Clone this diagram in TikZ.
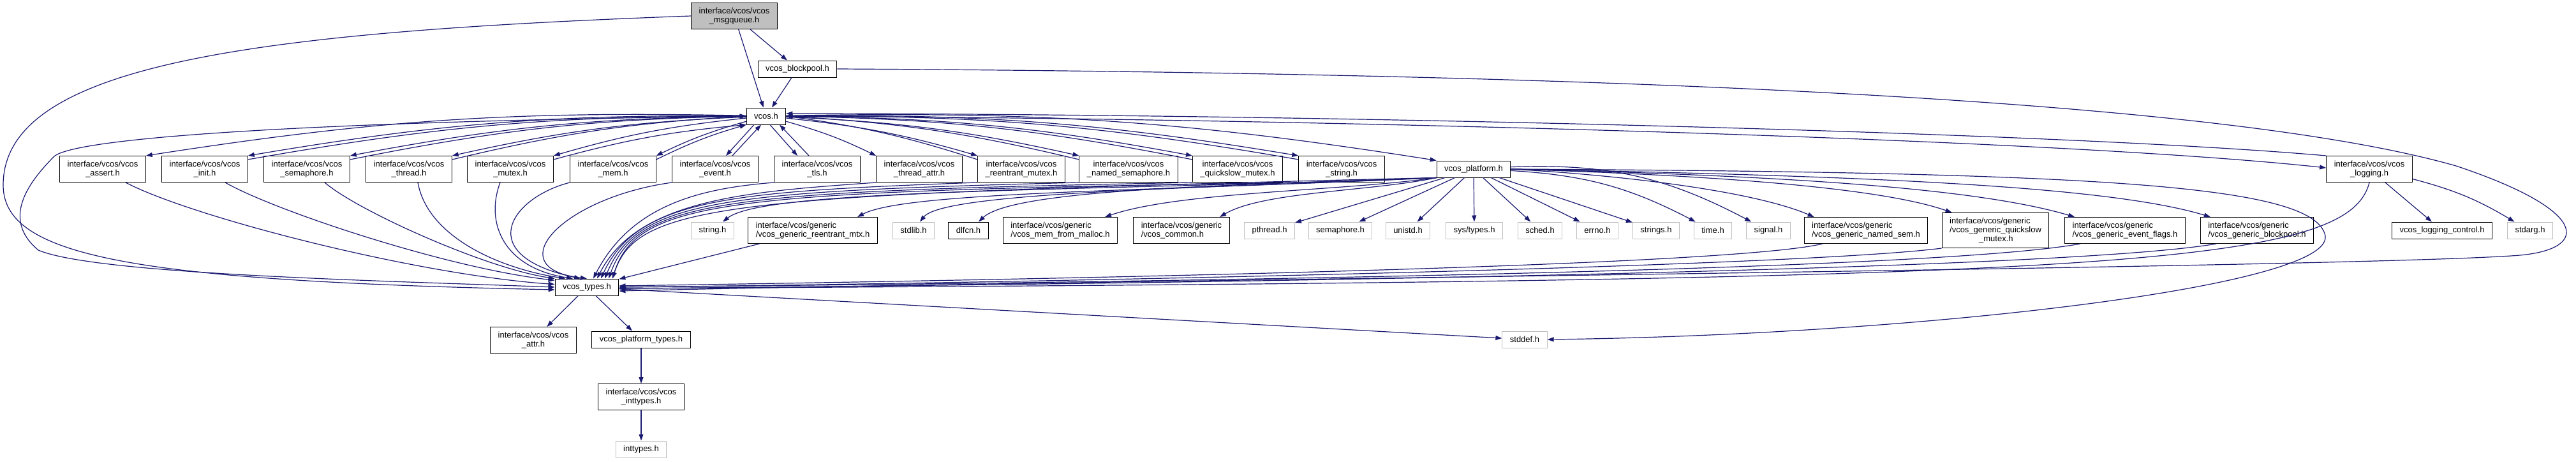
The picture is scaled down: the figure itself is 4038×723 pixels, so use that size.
\documentclass[tikz,border=0pt]{standalone}
\usepackage{fontspec}
\setmainfont{Liberation Sans}
\usetikzlibrary{arrows.meta}
\definecolor{edgeblue}{HTML}{191970}
\definecolor{grey75}{HTML}{BFBFBF}

\begin{document}
\begin{tikzpicture}[x=0.5pt, y=-0.5pt, font=\fontsize{6.5pt}{7pt}\selectfont,
        box/.style={draw=black, line width=0.5pt, fill=white, inner xsep=6pt,
                    inner ysep=1pt, minimum height=13pt, align=center},
        two/.style={minimum height=20.5pt},
        sys/.style={box, draw=grey75},
        gen/.style={box, two, align=left},
        inc/.style={draw=edgeblue, line width=0.6pt,
                    -{Triangle[length=5pt,width=3.5pt]}}]
      \useasboundingbox (0,0) rectangle (4038,723);
      \node[box, two, fill=grey75] (msgq)   at (1151,25)  {interface/vcos/vcos\\\_msgqueue.h};
      \node[box]                   (blockp) at (1250,108) {vcos\_blockpool.h};
      \node[box]                   (vcos)   at (1201,182) {vcos.h};

      \node[box, two] (assert)  at (161,265)  {interface/vcos/vcos\\\_assert.h};
      \node[box, two] (init)    at (321,265)  {interface/vcos/vcos\\\_init.h};
      \node[box, two] (sema)    at (481,265)  {interface/vcos/vcos\\\_semaphore.h};
      \node[box, two] (thread)  at (641,265)  {interface/vcos/vcos\\\_thread.h};
      \node[box, two] (mutex)   at (800,265)  {interface/vcos/vcos\\\_mutex.h};
      \node[box, two] (mem)     at (961,265)  {interface/vcos/vcos\\\_mem.h};
      \node[box, two] (event)   at (1121,265) {interface/vcos/vcos\\\_event.h};
      \node[box, two] (tls)     at (1281,265) {interface/vcos/vcos\\\_tls.h};
      \node[box, two] (tattr)   at (1441,265) {interface/vcos/vcos\\\_thread\_attr.h};
      \node[box, two] (rmutex)  at (1601,265) {interface/vcos/vcos\\\_reentrant\_mutex.h};
      \node[box, two] (nsema)   at (1769,265) {interface/vcos/vcos\\\_named\_semaphore.h};
      \node[box, two] (qsmutex) at (1940,265) {interface/vcos/vcos\\\_quickslow\_mutex.h};
      \node[box, two] (vstring) at (2103,265) {interface/vcos/vcos\\\_string.h};
      \node[box]      (platform) at (2310,265) {vcos\_platform.h};
      \node[box, two] (logging) at (3714,265) {interface/vcos/vcos\\\_logging.h};

      \node[sys] (stringh)  at (1117,361) {string.h};
      \node[gen] (greent)   at (1274,361) {interface/vcos/generic\\/vcos\_generic\_reentrant\_mtx.h};
      \node[sys] (stdlib)   at (1432,361) {stdlib.h};
      \node[box] (dlfcn)    at (1518,361) {dlfcn.h};
      \node[gen] (gmem)     at (1662,361) {interface/vcos/generic\\/vcos\_mem\_from\_malloc.h};
      \node[gen] (gcommon)  at (1852,361) {interface/vcos/generic\\/vcos\_common.h};
      \node[sys] (pthread)  at (1990,361) {pthread.h};
      \node[sys] (semah)    at (2101,361) {semaphore.h};
      \node[sys] (unistd)   at (2207,361) {unistd.h};
      \node[sys] (systypes) at (2311,361) {sys/types.h};
      \node[sys] (sched)    at (2414,361) {sched.h};
      \node[sys] (errno)    at (2504,361) {errno.h};
      \node[sys] (strings)  at (2596,361) {strings.h};
      \node[sys] (timeh)    at (2685,361) {time.h};
      \node[sys] (signal)   at (2772,361) {signal.h};
      \node[gen] (gnsem)    at (2925,361) {interface/vcos/generic\\/vcos\_generic\_named\_sem.h};
      \node[gen, minimum height=27.5pt] (gqs) at (3128,361)
            {interface/vcos/generic\\/vcos\_generic\_quickslow\\\hspace*{23pt}\_mutex.h};
      \node[gen] (gevf)     at (3331,361) {interface/vcos/generic\\/vcos\_generic\_event\_flags.h};
      \node[gen] (gblk)     at (3538,361) {interface/vcos/generic\\/vcos\_generic\_blockpool.h};
      \node[box] (logctl)   at (3828,361) {vcos\_logging\_control.h};
      \node[sys] (stdarg)   at (3966,361) {stdarg.h};

      \node[box]      (types)     at (920,450)  {vcos\_types.h};
      \node[box, two] (attr)      at (836,533)  {interface/vcos/vcos\\\_attr.h};
      \node[box]      (ptypes)    at (1005,532) {vcos\_platform\_types.h};
      \node[box, two] (vinttypes) at (1005,622) {interface/vcos/vcos\\\_inttypes.h};
      \node[sys]      (inttypes)  at (1005,704) {inttypes.h};
      \node[sys]      (stddef)    at (2390,532) {stddef.h};

      \draw[inc] (msgq) -- (blockp);
      \draw[inc] (msgq) -- (vcos);
      \draw[inc] (blockp) -- (vcos);
      \draw[inc] (msgq.west) .. controls (400,50) and (5,100) .. (5,290)
            .. controls (5,400) and (200,440) .. ([yshift=-2pt]types.west);
      \draw[inc] (blockp.east) .. controls (2600,115) and (3500,160) .. (3850,260)
            .. controls (4060,330) and (4060,390) .. (3950,400)
            .. controls (3700,420) and (1600,440) .. ([yshift=-3pt]types.east);
      \draw[inc] (vcos.west) .. controls (500,190) and (120,215) .. (85,245)
            .. controls (30,300) and (10,350) .. (60,392)
            .. controls (150,430) and (600,440) .. (types.west);

      \draw[inc] (vcos) to[bend right=5] (assert.north east);
      \draw[inc] (vcos) to[bend right=5] (init.north east);
      \draw[inc] ([yshift=-3pt]init.north east) to[bend left=5] (vcos.west);
      \draw[inc] (vcos) to[bend right=5] (sema.north east);
      \draw[inc] ([yshift=-3pt]sema.north east) to[bend left=5] (vcos.west);
      \draw[inc] (vcos) to[bend right=5] (thread.north east);
      \draw[inc] ([yshift=-3pt]thread.north east) to[bend left=5] (vcos.west);
      \draw[inc] (vcos) to[bend right=5] (mutex.north east);
      \draw[inc] ([yshift=-3pt]mutex.north east) to[bend left=5] (vcos.south west);
      \draw[inc] (vcos) to[bend right=5] (mem.north east);
      \draw[inc] ([yshift=-3pt]mem.north east) to[bend left=5] (vcos.south west);
      \draw[inc] ([xshift=-9.5pt]vcos.south) -- ([xshift=8.5pt]event.north);
      \draw[inc] ([xshift=13.5pt]event.north) -- ([xshift=-4pt]vcos.south);
      \draw[inc] ([xshift=3pt]vcos.south) -- ([xshift=-15.5pt]tls.north);
      \draw[inc] ([xshift=-6.5pt]tls.north) -- ([xshift=10.5pt]vcos.south);
      \draw[inc] (vcos) to[bend left=5] (tattr.north west);
      \draw[inc] (vcos) to[bend left=5] (rmutex.north west);
      \draw[inc] ([yshift=-3pt]rmutex.north west) to[bend right=5] (vcos.east);
      \draw[inc] (vcos) to[bend left=5] (nsema.north west);
      \draw[inc] ([yshift=-3pt]nsema.north west) to[bend right=5] (vcos.east);
      \draw[inc] (vcos) to[bend left=5] (qsmutex.north west);
      \draw[inc] ([yshift=-3pt]qsmutex.north west) to[bend right=5] (vcos.east);
      \draw[inc] (vcos) to[bend left=5] (vstring.north west);
      \draw[inc] ([yshift=-3pt]vstring.north west) to[bend right=5] (vcos.east);
      \draw[inc] (vcos) to[bend left=5] (platform.north west);
      \draw[inc] (vcos.east) .. controls (2000,185) and (3200,215) .. ([yshift=1pt]logging.west);
      \draw[inc] (logging.north west) .. controls (3200,205) and (2000,178) .. ([yshift=2pt]vcos.east);

      \draw[inc] ([xshift=18pt]assert.south) .. controls (300,340) and (650,430) .. (types.175);
      \draw[inc] ([xshift=16pt]init.south) .. controls (430,330) and (700,420) .. (types.168);
      \draw[inc] ([xshift=14pt]sema.south) .. controls (560,330) and (760,420) .. (types.north west);
      \draw[inc] ([xshift=7pt]thread.south) .. controls (670,370) and (780,420) .. ([xshift=-17pt]types.north);
      \draw[inc] ([xshift=-8pt]mutex.south) .. controls (760,350) and (790,420) .. ([xshift=-11pt]types.north);
      \draw[inc] (mem.south west) .. controls (800,310) and (740,400) .. ([xshift=-5pt]types.north);
      \draw[inc] (event.south west) .. controls (880,310) and (780,420) .. (types.north);
      \draw[inc] (tls.south west) .. controls (1100,295) and (990,320) .. ([xshift=5pt]types.north);
      \draw[inc] (tattr.south west) .. controls (1180,300) and (1000,310) .. ([xshift=8pt]types.north);
      \draw[inc] (rmutex.south west) .. controls (1150,300) and (1000,310) .. ([xshift=11pt]types.north);
      \draw[inc] (nsema.south west) .. controls (1150,300) and (1000,310) .. ([xshift=14pt]types.north);
      \draw[inc] (qsmutex.south west) .. controls (1150,300) and (1000,310) .. ([xshift=17pt]types.north);
      \draw[inc] (vstring.south west) .. controls (1150,300) and (1000,310) .. ([xshift=20pt]types.north);
      \draw[inc] (platform.south west) .. controls (1150,305) and (1000,315) .. ([xshift=20pt]types.north);

      \draw[inc] (platform.south west) .. controls (1700,300) and (1200,295) .. ([xshift=8pt]stringh.north);
      \draw[inc] (platform.south west) .. controls (1800,300) and (1420,300) .. ([xshift=35pt]greent.north);
      \draw[inc] (platform.south west) .. controls (1900,295) and (1480,300) .. ([xshift=5pt]stdlib.north);
      \draw[inc] (platform.south west) .. controls (1950,290) and (1590,295) .. ([xshift=8pt]dlfcn.north);
      \draw[inc] (platform.south west) .. controls (2100,300) and (1850,300) .. ([xshift=35pt]gmem.north);
      \draw[inc] (platform.south west) .. controls (2150,300) and (1980,300) .. ([xshift=30pt]gcommon.north);
      \draw[inc] (platform) -- (pthread);
      \draw[inc] (platform) -- (semah);
      \draw[inc] (platform) -- (unistd);
      \draw[inc] (platform) -- (systypes);
      \draw[inc] (platform) -- (sched);
      \draw[inc] (platform) -- (errno);
      \draw[inc] (platform) -- (strings);
      \draw[inc] (platform) to[bend left=12] (timeh);
      \draw[inc] (platform) to[bend left=15] (signal);
      \draw[inc] (platform.east) .. controls (2550,275) and (2750,300) .. ([xshift=8pt]gnsem.north west);
      \draw[inc] (platform.east) .. controls (2700,275) and (2950,295) .. ([xshift=8pt]gqs.north west);
      \draw[inc] (platform.east) .. controls (2800,275) and (3100,295) .. ([xshift=8pt]gevf.north west);
      \draw[inc] (platform.east) .. controls (2900,275) and (3300,290) .. ([xshift=8pt]gblk.north west);
      \draw[inc] (platform.east) .. controls (3300,270) and (3630,290) .. (3645,370)
            .. controls (3655,450) and (3000,525) .. (stddef.east);

      \draw[inc] (greent) -- (types);
      \draw[inc] ([xshift=-34pt]gnsem.south) .. controls (2700,420) and (1500,440) .. ([yshift=1pt]types.east);
      \draw[inc] (gqs.south west) .. controls (2800,420) and (1500,445) .. (types.east);
      \draw[inc] ([xshift=-35pt]gevf.south) .. controls (3000,430) and (1500,445) .. (types.east);
      \draw[inc] ([xshift=-32pt]gblk.south) .. controls (3200,430) and (1500,448) .. ([yshift=-1pt]types.east);
      \draw[inc] (logging.south) .. controls (3680,420) and (3300,440) .. ([yshift=-1pt]types.east);
      \draw[inc] (logging) -- (logctl);
      \draw[inc] (logging) to[bend left=8] (stdarg);

      \draw[inc] (types) -- (attr);
      \draw[inc] (types) -- (ptypes);
      \draw[inc] (types) -- (stddef);
      \draw[inc] (ptypes) -- (vinttypes);
      \draw[inc] (vinttypes) -- (inttypes);
    \end{tikzpicture}
\end{document}
